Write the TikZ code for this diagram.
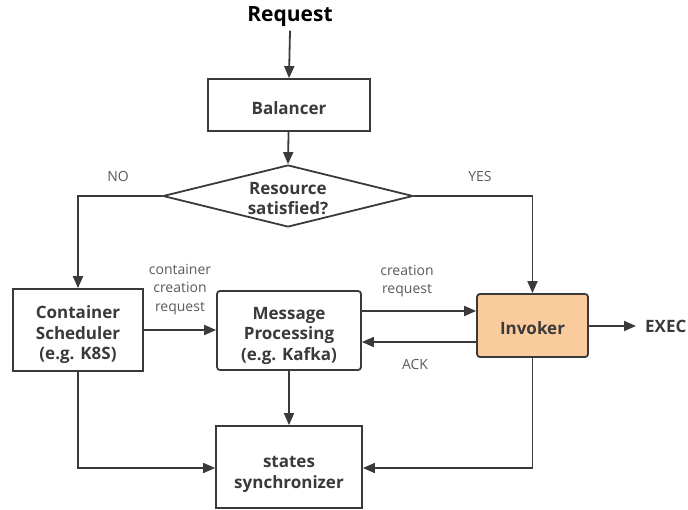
\documentclass[tikz,border=0pt]{standalone}
\usepackage{fontspec}
\setmainfont{Open Sans}
\usetikzlibrary{arrows.meta,shapes.geometric}
\definecolor{ink}{HTML}{3A3A3A}
\definecolor{note}{HTML}{5A5A5A}
\definecolor{peach}{HTML}{FACB9C}
\tikzset{
  box/.style={draw=ink, line width=1.8pt, text=ink, align=center,
    font=\fontsize{17}{20}\selectfont\bfseries, inner sep=0pt},
  flow/.style={draw=ink, line width=1.8pt, -{Triangle[length=12pt,width=10pt]}},
  lbl/.style={text=note, align=center, font=\fontsize{14}{18.3}\selectfont},
}
\begin{document}
\begin{tikzpicture}[x=1pt,y=-1pt]
  \useasboundingbox (0,0) rectangle (688,509);

  % title and balancer
  \node[text=black, font=\fontsize{21}{24}\selectfont\bfseries] (req) at (290,17) {Request};
  \node[box, minimum width=162pt, minimum height=52pt, text height=18pt, text depth=0pt] (bal) at (289,105) {Balancer};

  % decision
  \node[box, diamond, aspect=3.9, minimum width=250pt, minimum height=62pt,
        text height=37pt, text depth=0pt,
        font=\fontsize{17}{20.5}\selectfont\bfseries] (dec) at (288,196) {Resource\\satisfied?};

  % second row
  \node[box, minimum width=130pt, minimum height=82pt, text height=63pt, text depth=4pt,
        font=\fontsize{17}{20.5}\selectfont\bfseries] (sched) at (78,330) {Container\\Scheduler\\(e.g. K8S)};
  \node[box, rounded corners=3pt, minimum width=144pt, minimum height=79pt, text height=63pt, text depth=4pt,
        font=\fontsize{17}{20.5}\selectfont\bfseries] (msg) at (289,330.5) {Message\\Processing\\(e.g. Kafka)};
  \node[box, rounded corners=3pt, fill=peach, minimum width=111pt, minimum height=63pt,
        text height=18pt, text depth=0pt] (inv) at (532.5,325.5) {Invoker};
  \node[text=ink, font=\fontsize{17}{20}\selectfont\bfseries, anchor=west, inner sep=0pt] (exec) at (645,326) {EXEC};
  \coordinate (execin) at (636,326);

  % bottom
  \node[box, minimum width=146pt, minimum height=82pt, text height=46pt, text depth=4pt,
        font=\fontsize{17}{21}\selectfont\bfseries] (sync) at (289,467) {states\\synchronizer};

  % connectors
  \draw[flow] (req.south) -- (bal.north);
  \draw[flow] (bal) -- (dec.north);
  \draw[flow] (dec.west) -| (sched.north);
  \draw[flow] (dec.east) -| (inv.north);
  \draw[flow] (sched.east |- 0,330) -- (msg.west |- 0,330);
  \draw[flow] (msg.east |- 0,311) -- (inv.west |- 0,311);
  \draw[flow] (inv.west |- 0,342) -- (msg.east |- 0,342);
  \draw[flow] (inv.east |- execin) -- (execin);
  \draw[flow] (msg) -- (sync);
  \draw[flow] (sched.south) |- (sync.west |- 0,468);
  \draw[flow] (inv.south) |- (sync.east |- 0,468);

  % labels
  \node[lbl] (no) at (118,176) {NO};
  \node[lbl] (yes) at (480,176) {YES};
  \node[lbl] (ccr) at (180,289.5) {container\\creation\\request};
  \node[lbl] (cr) at (407,281) {creation\\request};
  \node[lbl] (ack) at (415,364) {ACK};
\end{tikzpicture}
\end{document}
